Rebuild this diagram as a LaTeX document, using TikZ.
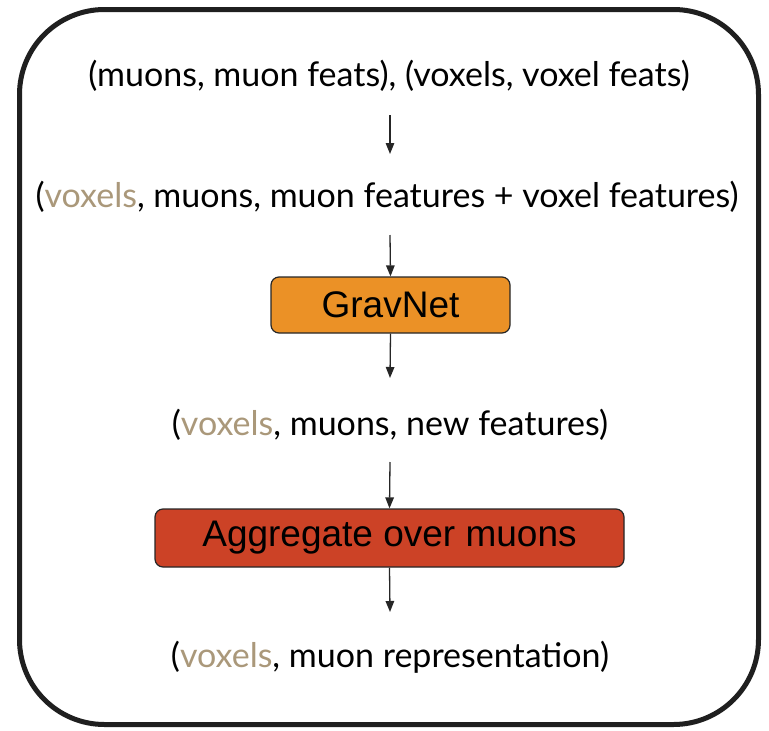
\documentclass[tikz,border=0pt]{standalone}
\usepackage{fontspec}
\setmainfont{Lato}
\newfontfamily\boxfont{Liberation Sans}
\usetikzlibrary{arrows.meta}
\definecolor{voxtan}{RGB}{170,152,122}
\definecolor{gravorange}{RGB}{235,145,38}
\definecolor{aggred}{RGB}{204,66,38}
\tikzset{
  x=1pt, y=-1pt,
  flowtext/.style={font=\fontsize{34}{38}\selectfont, inner sep=0pt, anchor=center},
  opbox/.style={draw=black!85, line width=1.2pt, rounded corners=8pt, inner sep=0pt,
                font=\boxfont\fontsize{37}{41}\selectfont, anchor=center},
  flowarrow/.style={line width=1.3pt, black!85, -{Triangle[length=11pt,width=8.5pt]}},
}
\newcommand{\vox}{\textcolor{voxtan}{voxels}}
\begin{document}
\begin{tikzpicture}
\useasboundingbox (0,0) rectangle (769,731);
% outer frame
\draw[line width=5pt, black!88, rounded corners=85pt] (19.5,9.5) rectangle (758.5,724.5);

\node[flowtext] (t1) at (389,76) {(muons, muon feats), (voxels, voxel feats)};
\node[flowtext] (t2) at (387,197) {(\vox, muons, muon features + voxel features)};
\node[opbox, fill=gravorange, minimum width=239pt, minimum height=56pt] (g) at (390.5,305) {GravNet};
\node[flowtext] (t3) at (390,425) {(\vox, muons, new features)};
\node[opbox, fill=aggred, minimum width=469pt, minimum height=58pt] (a) at (389.5,538) {Aggregate over muons};
\node[flowtext] (t4) at (390,657) {(\vox, muon representation)};

\coordinate (s1) at (390,115); \coordinate (e1) at (390,154);
\coordinate (s2) at (390,235);
\coordinate (e3) at (390,378);
\coordinate (s3) at (390,462);
\coordinate (e5) at (390,612);
\draw[flowarrow] (s1) -- (e1);
\draw[flowarrow] (s2) -- (g.north);
\draw[flowarrow] (g.south) -- (e3);
\draw[flowarrow] (s3) -- (a.north);
\draw[flowarrow] (a.south) -- (e5);
\end{tikzpicture}
\end{document}
